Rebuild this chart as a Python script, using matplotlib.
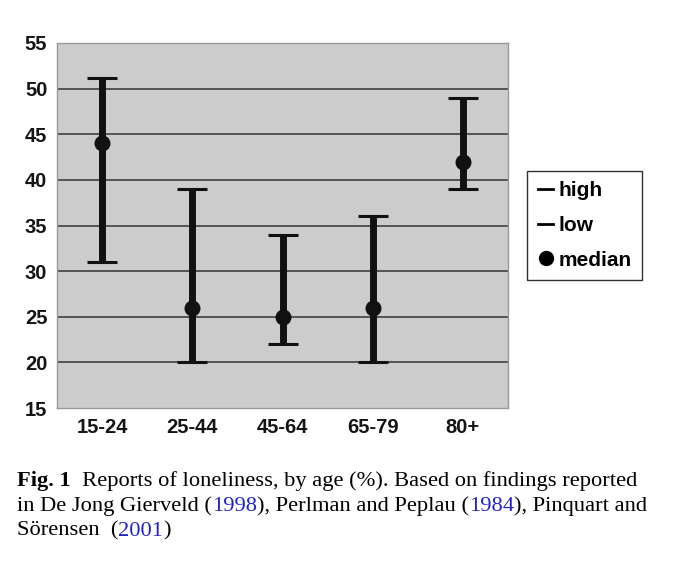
import numpy as np
import matplotlib.pyplot as plt
from matplotlib.lines import Line2D

ages = ["15-24", "25-44", "45-64", "65-79", "80+"]
high = np.array([51.2, 39, 34, 36, 49])
low = np.array([31, 20, 22, 20, 39])
median = np.array([44, 26, 25, 26, 42])

plt.rcParams['font.family'] = ['Liberation Sans', 'DejaVu Sans']

fig = plt.figure(figsize=(6.98, 5.73), dpi=100)
ax = fig.add_axes([57 / 698, 1 - 408 / 573, 451 / 698, 365 / 573])
ax.set_facecolor("#cccccc")

x = np.arange(len(ages)) + 0.5
for y in range(20, 55, 5):
    ax.axhline(y, color="#333333", lw=1.1, zorder=1)

ax.errorbar(x, median, yerr=[median - low, high - median], fmt="o", color="#111111",
            ms=10.5, elinewidth=5, capsize=11, capthick=2.2, zorder=3)

ax.set_xlim(0, 5)
ax.set_ylim(15, 55)
ax.set_yticks(range(15, 60, 5))
ax.set_xticks(x)
ax.set_xticklabels(ages)
ax.tick_params(length=0, labelsize=14.5, labelcolor="#151515")
ax.tick_params(axis="y", pad=7)
ax.tick_params(axis="x", pad=7)
for lab in ax.get_xticklabels() + ax.get_yticklabels():
    lab.set_fontweight("bold")
for s in ax.spines.values():
    s.set_color("#999999")
    s.set_linewidth(1)

handles = [Line2D([], [], color="black", lw=2),
           Line2D([], [], color="black", lw=2),
           Line2D([], [], color="black", marker="o", ls="none", ms=10)]
leg = ax.legend(handles, ["high", "low", "median"], loc="center left",
                bbox_to_anchor=(1.02, 0.5), frameon=True, fancybox=False,
                edgecolor="black", handlelength=0.75, handletextpad=0.25,
                borderpad=0.5, labelspacing=0.75,
                prop={"weight": "bold", "size": 15})
leg.get_frame().set_linewidth(1)

# caption with blue years
serif = {"family": ["Liberation Serif", "DejaVu Serif"], "size": 16.2}
lines = [
    [("Fig. 1", "black", "bold"), ("  Reports of loneliness, by age (%). Based on findings reported", "black", "normal")],
    [("in De Jong Gierveld (", "black", "normal"), ("1998", "#2222cc", "normal"),
     ("), Perlman and Peplau (", "black", "normal"), ("1984", "#2222cc", "normal"),
     ("), Pinquart and", "black", "normal")],
    [("Sörensen  (", "black", "normal"), ("2001", "#2222cc", "normal"), (")", "black", "normal")],
]
ys = [481, 506, 531]
for yy, parts in zip(ys, lines):
    prev = None
    for txt, col, wt in parts:
        if prev is None:
            prev = fig.text(17 / 698, 1 - yy / 573, txt, color=col, fontweight=wt,
                            va="center", ha="left", **serif)
        else:
            prev = ax.annotate(txt, xy=(1, 0), xycoords=prev, va="bottom", ha="left",
                               color=col, fontweight=wt, annotation_clip=False, **serif)

fig.savefig("out.png", dpi=100)
